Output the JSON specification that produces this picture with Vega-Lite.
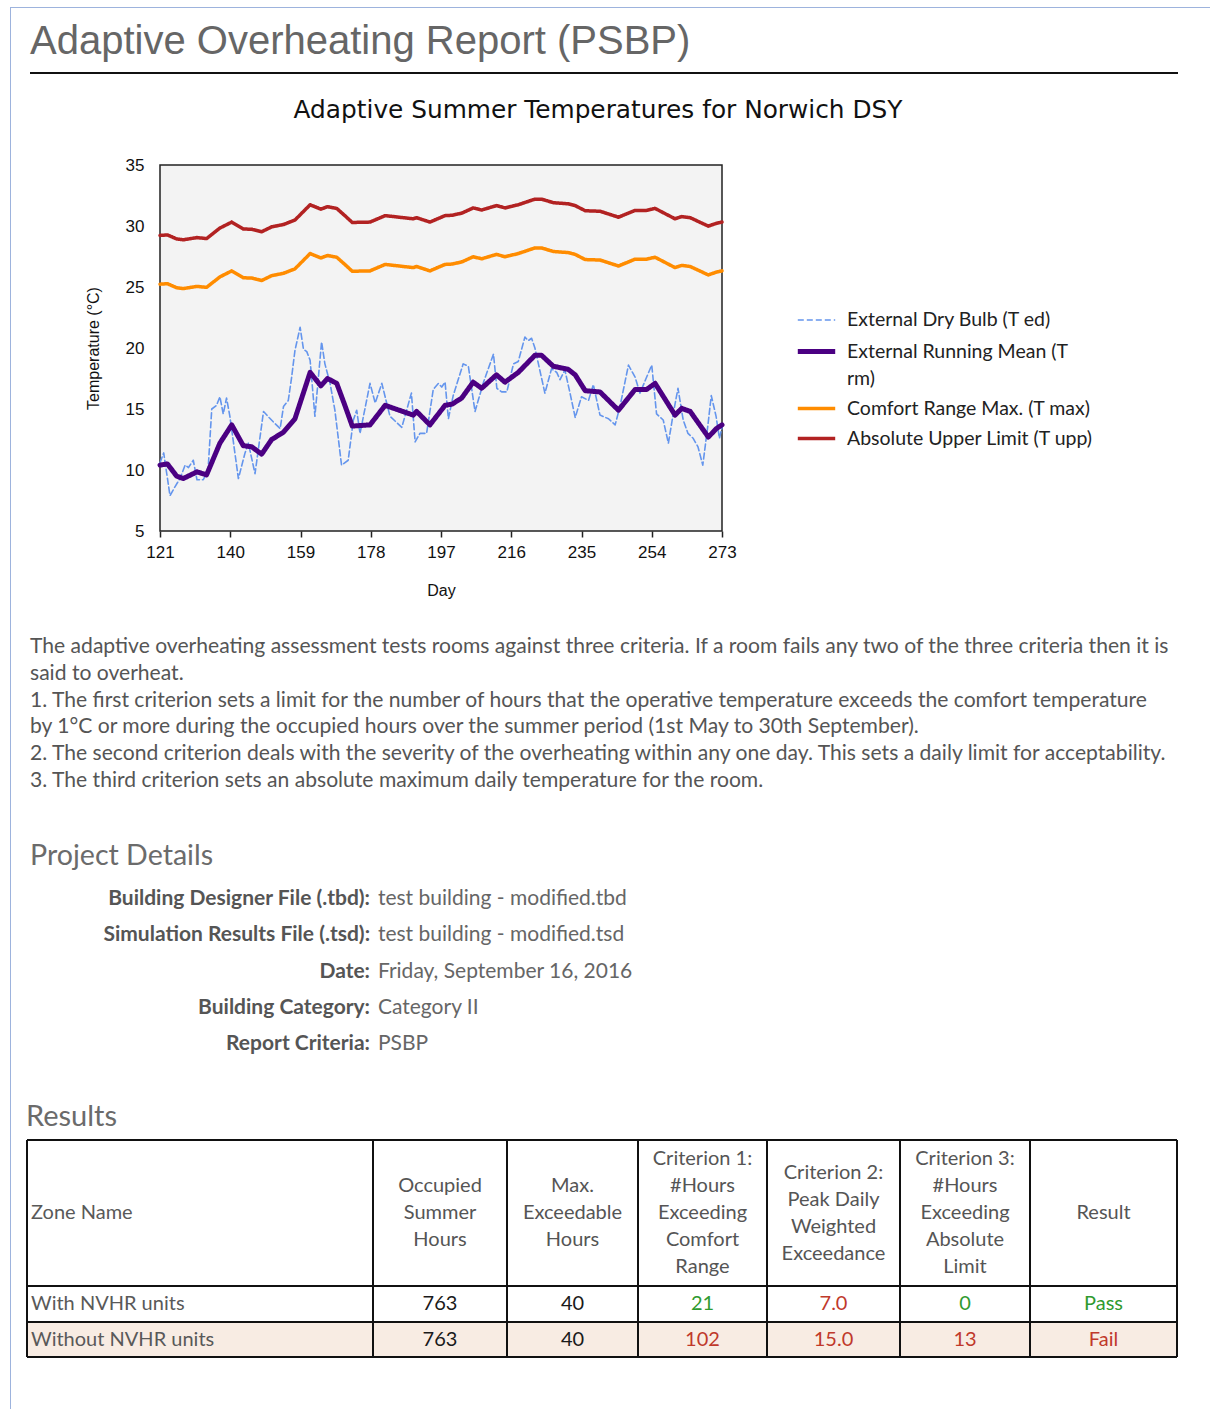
{
  "$schema": "https://vega.github.io/schema/vega-lite/v6.json",
  "background": "white",
  "padding": {"left": 10, "top": 7, "right": 0, "bottom": 0},
  "autosize": {"type": "pad"},
  "config": {"view": {"stroke": null}, "font": "Lato", "style": {"guide-label": {"lineHeight": 27}}},
  "datasets": {
    "hdr": [
      {"c": 1, "v": ["Occupied", "Summer", "Hours"]},
      {"c": 2, "v": ["Max.", "Exceedable", "Hours"]},
      {"c": 3, "v": ["Criterion 1:", "#Hours", "Exceeding", "Comfort", "Range"]},
      {"c": 4, "v": ["Criterion 2:", "Peak Daily", "Weighted", "Exceedance"]},
      {"c": 5, "v": ["Criterion 3:", "#Hours", "Exceeding", "Absolute", "Limit"]},
      {"c": 6, "v": ["Result"]}
    ],
    "body": [
      {"r": 1, "c": 1, "k": "n", "v": "763"},
      {"r": 1, "c": 2, "k": "n", "v": "40"},
      {"r": 1, "c": 3, "k": "g", "v": "21"},
      {"r": 1, "c": 4, "k": "r", "v": "7.0"},
      {"r": 1, "c": 5, "k": "g", "v": "0"},
      {"r": 1, "c": 6, "k": "g", "v": "Pass"},
      {"r": 2, "c": 1, "k": "n", "v": "763"},
      {"r": 2, "c": 2, "k": "n", "v": "40"},
      {"r": 2, "c": 3, "k": "r", "v": "102"},
      {"r": 2, "c": 4, "k": "r", "v": "15.0"},
      {"r": 2, "c": 5, "k": "r", "v": "13"},
      {"r": 2, "c": 6, "k": "r", "v": "Fail"}
    ]
  },
  "bounds": "flush",
  "spacing": 0,
  "vconcat": [
    {
      "width": 1200, "height": 1,
      "view": {"fill": "#9db3dd", "stroke": null},
      "data": {"values": []},
      "mark": "rule",
      "encoding": {}
    },
    {
      "bounds": "flush",
      "spacing": 19,
      "hconcat": [
        {
          "width": 1, "height": 1401,
          "view": {"fill": "#9db3dd", "stroke": null},
          "data": {"values": []},
          "mark": "rule",
          "encoding": {}
        },
        {
          "bounds": "flush",
          "spacing": 0,
          "vconcat": [
            {
              "width": 1148, "height": 157,
              "data": {"values": [{"title": "Adaptive Overheating Report (PSBP)"}]},
              "layer": [
                {
                  "mark": {"type": "text", "font": "Liberation Sans", "fontSize": 40, "color": "#666666", "align": "left", "baseline": "alphabetic"},
                  "encoding": {
                    "text": {"field": "title"},
                    "x": {"datum": 0, "type": "quantitative", "scale": {"domain": [0, 1]}, "axis": null},
                    "y": {"datum": 0.707, "type": "quantitative", "scale": {"domain": [0, 1]}, "axis": null}
                  }
                },
                {
                  "mark": {"type": "rule", "color": "#111111", "strokeWidth": 2},
                  "encoding": {
                    "x": {"datum": 0, "type": "quantitative", "axis": null},
                    "x2": {"datum": 1},
                    "y": {"datum": 0.586, "type": "quantitative", "axis": null}
                  }
                }
              ]
            },
            {
              "width": 1136, "height": 366,
              "title": {"text": "Adaptive Summer Temperatures for Norwich DSY", "anchor": "middle", "font": "DejaVu Sans", "fontSize": 24.8, "fontWeight": "normal", "color": "#111111", "offset": 13, "baseline": "alphabetic"},
              "layer": [
                {
                  "data": {"values": [{}]},
                  "mark": {"type": "rect", "fill": "#f3f3f3", "stroke": "#222222", "strokeWidth": 1.5},
                  "encoding": {
                    "x": {"datum": 121, "type": "quantitative"},
                    "x2": {"datum": 273},
                    "y": {"datum": 5, "type": "quantitative"},
                    "y2": {"datum": 35}
                  }
                },
                {
                  "data": {"values": [
                    {"s":"ted","d":121,"t":10.6},{"s":"ted","d":122,"t":11.4},{"s":"ted","d":123.7,"t":7.9},{"s":"ted","d":125,"t":8.6},{"s":"ted","d":126.4,"t":9.3},{"s":"ted","d":127.8,"t":10.4},{"s":"ted","d":128.7,"t":10.2},{"s":"ted","d":130,"t":10.8},{"s":"ted","d":131,"t":9.2},{"s":"ted","d":132.7,"t":9.2},{"s":"ted","d":134,"t":10.0},{"s":"ted","d":135,"t":15.0},{"s":"ted","d":136.3,"t":15.3},{"s":"ted","d":137.2,"t":16.0},{"s":"ted","d":138.1,"t":14.6},{"s":"ted","d":139,"t":15.9},{"s":"ted","d":139.9,"t":14.4},{"s":"ted","d":142.2,"t":9.3},{"s":"ted","d":144,"t":11.4},{"s":"ted","d":144.9,"t":12.2},{"s":"ted","d":146.7,"t":9.7},{"s":"ted","d":149,"t":14.8},{"s":"ted","d":150.5,"t":14.3},{"s":"ted","d":152.1,"t":13.8},{"s":"ted","d":153.5,"t":13.4},{"s":"ted","d":154.4,"t":15.2},{"s":"ted","d":155.7,"t":15.7},{"s":"ted","d":156.6,"t":17.6},{"s":"ted","d":157.5,"t":19.8},{"s":"ted","d":158.9,"t":21.7},{"s":"ted","d":159.8,"t":19.9},{"s":"ted","d":160.7,"t":19.7},{"s":"ted","d":161.6,"t":19.0},{"s":"ted","d":162.9,"t":14.4},{"s":"ted","d":164.7,"t":20.5},{"s":"ted","d":165.6,"t":18.7},{"s":"ted","d":167,"t":17.1},{"s":"ted","d":168.3,"t":14.9},{"s":"ted","d":170.1,"t":10.4},{"s":"ted","d":171.9,"t":10.8},{"s":"ted","d":173.3,"t":14.1},{"s":"ted","d":174.2,"t":14.9},{"s":"ted","d":175.1,"t":13.0},{"s":"ted","d":177.8,"t":17.1},{"s":"ted","d":179.2,"t":15.5},{"s":"ted","d":181,"t":17.1},{"s":"ted","d":183.2,"t":14.4},{"s":"ted","d":186.4,"t":13.5},{"s":"ted","d":189,"t":16.3},{"s":"ted","d":190,"t":12.3},{"s":"ted","d":191.3,"t":13.0},{"s":"ted","d":193.1,"t":13.0},{"s":"ted","d":194.9,"t":16.6},{"s":"ted","d":196.3,"t":17.1},{"s":"ted","d":197.2,"t":16.8},{"s":"ted","d":198.1,"t":17.2},{"s":"ted","d":199,"t":14.2},{"s":"ted","d":200.3,"t":16.1},{"s":"ted","d":203,"t":18.7},{"s":"ted","d":204.4,"t":18.5},{"s":"ted","d":206.2,"t":14.8},{"s":"ted","d":208.5,"t":17.2},{"s":"ted","d":211.2,"t":19.5},{"s":"ted","d":212.1,"t":16.7},{"s":"ted","d":213.4,"t":16.4},{"s":"ted","d":214.8,"t":16.4},{"s":"ted","d":216.6,"t":18.7},{"s":"ted","d":217.9,"t":18.9},{"s":"ted","d":219.7,"t":20.9},{"s":"ted","d":220.6,"t":20.6},{"s":"ted","d":221.5,"t":20.8},{"s":"ted","d":222.4,"t":20.0},{"s":"ted","d":225.1,"t":16.3},{"s":"ted","d":226.9,"t":18.3},{"s":"ted","d":228.3,"t":18.0},{"s":"ted","d":229.2,"t":17.4},{"s":"ted","d":230.5,"t":18.2},{"s":"ted","d":231.9,"t":16.3},{"s":"ted","d":233.3,"t":14.3},{"s":"ted","d":235,"t":16.0},{"s":"ted","d":236.9,"t":15.7},{"s":"ted","d":238.2,"t":17.0},{"s":"ted","d":240,"t":14.5},{"s":"ted","d":242.3,"t":14.2},{"s":"ted","d":244.1,"t":13.7},{"s":"ted","d":245.4,"t":15.2},{"s":"ted","d":247.7,"t":18.6},{"s":"ted","d":249.5,"t":17.6},{"s":"ted","d":250.8,"t":16.3},{"s":"ted","d":252.6,"t":17.6},{"s":"ted","d":254,"t":18.6},{"s":"ted","d":255.3,"t":14.6},{"s":"ted","d":257.1,"t":14.1},{"s":"ted","d":258.5,"t":12.2},{"s":"ted","d":259.8,"t":14.6},{"s":"ted","d":261.1,"t":16.7},{"s":"ted","d":262.5,"t":14.1},{"s":"ted","d":263.8,"t":13.0},{"s":"ted","d":265.2,"t":12.6},{"s":"ted","d":266.5,"t":11.9},{"s":"ted","d":267.8,"t":10.4},{"s":"ted","d":269.2,"t":13.7},{"s":"ted","d":270.1,"t":16.1},{"s":"ted","d":271.4,"t":14.4},{"s":"ted","d":272.3,"t":12.6},{"s":"ted","d":273,"t":13.5},
                    {"s":"tupp","d":121,"t":29.23},{"s":"tupp","d":123,"t":29.27},{"s":"tupp","d":125.5,"t":28.94},{"s":"tupp","d":127.3,"t":28.87},{"s":"tupp","d":131,"t":29.05},{"s":"tupp","d":133.6,"t":28.97},{"s":"tupp","d":137.2,"t":29.83},{"s":"tupp","d":140.4,"t":30.32},{"s":"tupp","d":143.5,"t":29.76},{"s":"tupp","d":145.8,"t":29.73},{"s":"tupp","d":148.5,"t":29.53},{"s":"tupp","d":151.2,"t":29.93},{"s":"tupp","d":154.4,"t":30.12},{"s":"tupp","d":157.5,"t":30.49},{"s":"tupp","d":161.6,"t":31.74},{"s":"tupp","d":164.5,"t":31.38},{"s":"tupp","d":166.3,"t":31.58},{"s":"tupp","d":168.8,"t":31.44},{"s":"tupp","d":171,"t":30.85},{"s":"tupp","d":173,"t":30.29},{"s":"tupp","d":177.8,"t":30.32},{"s":"tupp","d":181.9,"t":30.85},{"s":"tupp","d":185.7,"t":30.72},{"s":"tupp","d":189.5,"t":30.59},{"s":"tupp","d":190.4,"t":30.68},{"s":"tupp","d":194,"t":30.32},{"s":"tupp","d":198.1,"t":30.85},{"s":"tupp","d":200,"t":30.88},{"s":"tupp","d":202.6,"t":31.05},{"s":"tupp","d":205.7,"t":31.48},{"s":"tupp","d":208,"t":31.31},{"s":"tupp","d":212,"t":31.67},{"s":"tupp","d":214.3,"t":31.48},{"s":"tupp","d":217.9,"t":31.74},{"s":"tupp","d":222.4,"t":32.2},{"s":"tupp","d":224.2,"t":32.2},{"s":"tupp","d":227.4,"t":31.91},{"s":"tupp","d":231.4,"t":31.82},{"s":"tupp","d":233.3,"t":31.67},{"s":"tupp","d":236,"t":31.25},{"s":"tupp","d":240,"t":31.21},{"s":"tupp","d":245,"t":30.72},{"s":"tupp","d":249.5,"t":31.28},{"s":"tupp","d":252.6,"t":31.28},{"s":"tupp","d":254.9,"t":31.44},{"s":"tupp","d":260.3,"t":30.59},{"s":"tupp","d":262.1,"t":30.77},{"s":"tupp","d":264.4,"t":30.68},{"s":"tupp","d":269.3,"t":29.99},{"s":"tupp","d":271.5,"t":30.22},{"s":"tupp","d":273,"t":30.32},
                    {"s":"tmax","d":121,"t":25.23},{"s":"tmax","d":123,"t":25.27},{"s":"tmax","d":125.5,"t":24.94},{"s":"tmax","d":127.3,"t":24.87},{"s":"tmax","d":131,"t":25.05},{"s":"tmax","d":133.6,"t":24.97},{"s":"tmax","d":137.2,"t":25.83},{"s":"tmax","d":140.4,"t":26.32},{"s":"tmax","d":143.5,"t":25.76},{"s":"tmax","d":145.8,"t":25.73},{"s":"tmax","d":148.5,"t":25.53},{"s":"tmax","d":151.2,"t":25.93},{"s":"tmax","d":154.4,"t":26.12},{"s":"tmax","d":157.5,"t":26.49},{"s":"tmax","d":161.6,"t":27.74},{"s":"tmax","d":164.5,"t":27.38},{"s":"tmax","d":166.3,"t":27.58},{"s":"tmax","d":168.8,"t":27.44},{"s":"tmax","d":171,"t":26.85},{"s":"tmax","d":173,"t":26.29},{"s":"tmax","d":177.8,"t":26.32},{"s":"tmax","d":181.9,"t":26.85},{"s":"tmax","d":185.7,"t":26.72},{"s":"tmax","d":189.5,"t":26.59},{"s":"tmax","d":190.4,"t":26.68},{"s":"tmax","d":194,"t":26.32},{"s":"tmax","d":198.1,"t":26.85},{"s":"tmax","d":200,"t":26.88},{"s":"tmax","d":202.6,"t":27.05},{"s":"tmax","d":205.7,"t":27.48},{"s":"tmax","d":208,"t":27.31},{"s":"tmax","d":212,"t":27.67},{"s":"tmax","d":214.3,"t":27.48},{"s":"tmax","d":217.9,"t":27.74},{"s":"tmax","d":222.4,"t":28.2},{"s":"tmax","d":224.2,"t":28.2},{"s":"tmax","d":227.4,"t":27.91},{"s":"tmax","d":231.4,"t":27.82},{"s":"tmax","d":233.3,"t":27.67},{"s":"tmax","d":236,"t":27.25},{"s":"tmax","d":240,"t":27.21},{"s":"tmax","d":245,"t":26.72},{"s":"tmax","d":249.5,"t":27.28},{"s":"tmax","d":252.6,"t":27.28},{"s":"tmax","d":254.9,"t":27.44},{"s":"tmax","d":260.3,"t":26.59},{"s":"tmax","d":262.1,"t":26.77},{"s":"tmax","d":264.4,"t":26.68},{"s":"tmax","d":269.3,"t":25.99},{"s":"tmax","d":271.5,"t":26.22},{"s":"tmax","d":273,"t":26.32},
                    {"s":"trm","d":121,"t":10.4},{"s":"trm","d":123,"t":10.5},{"s":"trm","d":125.5,"t":9.5},{"s":"trm","d":127.3,"t":9.3},{"s":"trm","d":131,"t":9.85},{"s":"trm","d":133.6,"t":9.6},{"s":"trm","d":137.2,"t":12.2},{"s":"trm","d":140.4,"t":13.7},{"s":"trm","d":143.5,"t":12.0},{"s":"trm","d":145.8,"t":11.9},{"s":"trm","d":148.5,"t":11.3},{"s":"trm","d":151.2,"t":12.5},{"s":"trm","d":154.4,"t":13.1},{"s":"trm","d":157.5,"t":14.2},{"s":"trm","d":161.6,"t":18.0},{"s":"trm","d":164.5,"t":16.9},{"s":"trm","d":166.3,"t":17.5},{"s":"trm","d":168.8,"t":17.1},{"s":"trm","d":171,"t":15.3},{"s":"trm","d":173,"t":13.6},{"s":"trm","d":177.8,"t":13.7},{"s":"trm","d":181.9,"t":15.3},{"s":"trm","d":185.7,"t":14.9},{"s":"trm","d":189.5,"t":14.5},{"s":"trm","d":190.4,"t":14.8},{"s":"trm","d":194,"t":13.7},{"s":"trm","d":198.1,"t":15.3},{"s":"trm","d":200,"t":15.4},{"s":"trm","d":202.6,"t":15.9},{"s":"trm","d":205.7,"t":17.2},{"s":"trm","d":208,"t":16.7},{"s":"trm","d":212,"t":17.8},{"s":"trm","d":214.3,"t":17.2},{"s":"trm","d":217.9,"t":18.0},{"s":"trm","d":222.4,"t":19.4},{"s":"trm","d":224.2,"t":19.4},{"s":"trm","d":227.4,"t":18.5},{"s":"trm","d":231.4,"t":18.25},{"s":"trm","d":233.3,"t":17.8},{"s":"trm","d":236,"t":16.5},{"s":"trm","d":240,"t":16.4},{"s":"trm","d":245,"t":14.9},{"s":"trm","d":249.5,"t":16.6},{"s":"trm","d":252.6,"t":16.6},{"s":"trm","d":254.9,"t":17.1},{"s":"trm","d":260.3,"t":14.5},{"s":"trm","d":262.1,"t":15.05},{"s":"trm","d":264.4,"t":14.8},{"s":"trm","d":269.3,"t":12.7},{"s":"trm","d":271.5,"t":13.4},{"s":"trm","d":273,"t":13.7}
                  ]},
                  "mark": {"type": "line", "strokeCap": "round", "strokeJoin": "round"},
                  "encoding": {
                    "x": {
                      "field": "d", "type": "quantitative",
                      "scale": {"domain": [121, 273], "range": [130, 692], "nice": false, "zero": false},
                      "axis": {"title": "Day", "values": [121, 140, 159, 178, 197, 216, 235, 254, 273], "grid": false, "domain": false, "ticks": true, "tickSize": 6, "tickWidth": 1.5, "tickColor": "#222222", "labelFont": "Liberation Sans", "labelFontSize": 17, "labelColor": "#111111", "labelPadding": 7, "labelFlush": false, "labelOverlap": false, "titleFont": "Liberation Sans", "titleFontSize": 16, "titleFontWeight": "normal", "titleColor": "#111111", "titlePadding": 22, "zindex": 1}
                    },
                    "y": {
                      "field": "t", "type": "quantitative",
                      "scale": {"domain": [5, 35], "nice": false, "zero": false},
                      "axis": {"title": "Temperature (°C)", "values": [5, 10, 15, 20, 25, 30, 35], "grid": false, "domain": false, "ticks": false, "tickSize": 0, "offset": -130, "labelFont": "Liberation Sans", "labelFontSize": 17, "labelColor": "#111111", "labelPadding": 16, "labelFlush": false, "labelOverlap": false, "titleFont": "Liberation Sans", "titleFontSize": 16, "titleFontWeight": "normal", "titleColor": "#111111", "titlePadding": 24, "zindex": 1}
                    },
                    "color": {
                      "field": "s", "type": "nominal",
                      "scale": {"domain": ["ted", "trm", "tmax", "tupp"], "range": ["#6495ED", "#4B0082", "#FF8C00", "#B22222"]},
                      "legend": {"orient": "none", "legendX": 785, "legendY": 293, "title": null, "labelFont": "Lato", "labelFontSize": 19.5, "labelColor": "#222222", "symbolType": "stroke", "symbolSize": 1400, "labelOffset": 9, "rowPadding": -3, "labelLimit": 400, "padding": 0,
                        "labelExpr": "datum.value == 'ted' ? 'External Dry Bulb (T ed)' : datum.value == 'trm' ? ['External Running Mean (T', 'rm)'] : datum.value == 'tmax' ? 'Comfort Range Max. (T max)' : 'Absolute Upper Limit (T upp)'"}
                    },
                    "strokeDash": {
                      "field": "s", "type": "nominal",
                      "scale": {"domain": ["ted", "trm", "tmax", "tupp"], "range": [[6, 3], [1, 0], [1, 0], [1, 0]]},
                      "legend": {"title": null}
                    },
                    "strokeWidth": {
                      "field": "s", "type": "nominal",
                      "scale": {"type": "ordinal", "domain": ["ted", "trm", "tmax", "tupp"], "range": [1.6, 5, 3.5, 3.5]},
                      "legend": {"title": null}
                    }
                  }
                }
              ]
            },
            {
              "width": 1148, "height": 347,
              "data": {"values": [
                {"i": 0, "line": "The adaptive overheating assessment tests rooms against three criteria. If a room fails any two of the three criteria then it is"},
                {"i": 1, "line": "said to overheat."},
                {"i": 2, "line": "1. The first criterion sets a limit for the number of hours that the operative temperature exceeds the comfort temperature"},
                {"i": 3, "line": "by 1°C or more during the occupied hours over the summer period (1st May to 30th September)."},
                {"i": 4, "line": "2. The second criterion deals with the severity of the overheating within any one day. This sets a daily limit for acceptability."},
                {"i": 5, "line": "3. The third criterion sets an absolute maximum daily temperature for the room."}
              ]},
              "mark": {"type": "text", "align": "left", "baseline": "middle", "font": "Lato", "fontSize": 21.1, "color": "#555555"},
              "encoding": {
                "x": {"datum": 0, "type": "quantitative", "scale": {"domain": [0, 1]}, "axis": null},
                "y": {"field": "i", "type": "quantitative", "scale": {"domain": [0, 5], "range": [116, 250]}, "axis": null},
                "text": {"field": "line"}
              }
            },
            {
              "width": 1148, "height": 262,
              "title": {"text": "Project Details", "anchor": "start", "font": "Lato", "fontSize": 28.6, "fontWeight": "normal", "color": "#6b6b6b", "offset": -16, "baseline": "alphabetic"},
              "data": {"values": [
                {"i": 0, "label": "Building Designer File (.tbd):", "value": "test building - modified.tbd"},
                {"i": 1, "label": "Simulation Results File (.tsd):", "value": "test building - modified.tsd"},
                {"i": 2, "label": "Date:", "value": "Friday, September 16, 2016"},
                {"i": 3, "label": "Building Category:", "value": "Category II"},
                {"i": 4, "label": "Report Criteria:", "value": "PSBP"}
              ]},
              "encoding": {
                "y": {"field": "i", "type": "quantitative", "scale": {"domain": [0, 4], "range": [21, 166]}, "axis": null}
              },
              "layer": [
                {
                  "mark": {"type": "text", "align": "right", "baseline": "middle", "font": "Lato", "fontSize": 21, "fontWeight": "bold", "color": "#555555"},
                  "encoding": {
                    "x": {"datum": 0.2962, "type": "quantitative", "scale": {"domain": [0, 1]}, "axis": null},
                    "text": {"field": "label"}
                  }
                },
                {
                  "mark": {"type": "text", "align": "left", "baseline": "middle", "font": "Lato", "fontSize": 21, "color": "#666666"},
                  "encoding": {
                    "x": {"datum": 0.3031, "type": "quantitative", "axis": null},
                    "text": {"field": "value"}
                  }
                }
              ]
            },
            {
              "width": 1148, "height": 217,
              "title": {"text": "Results", "anchor": "start", "font": "Lato", "fontSize": 29, "fontWeight": "normal", "color": "#6b6b6b", "offset": -16, "baseline": "alphabetic"},
              "resolve": {"scale": {"x": "independent", "y": "independent", "color": "independent"}},
              "layer": [
                {
                  "data": {"values": [{}]},
                  "mark": {"type": "rect", "fill": "#f8ece3"},
                  "encoding": {
                    "x": {"datum": 0, "type": "quantitative", "scale": {"domain": [0, 1, 2, 3, 4, 5, 6, 7], "range": [-3, 343, 477, 608, 737, 870, 1000, 1147]}, "axis": null},
                    "x2": {"datum": 7},
                    "y": {"datum": 2, "type": "quantitative", "scale": {"domain": [0, 1, 2, 3], "range": [0, 146, 182, 217]}, "axis": null},
                    "y2": {"datum": 3}
                  }
                },
                {
                  "data": {"values": [{"b": 0}, {"b": 1}, {"b": 2}, {"b": 3}, {"b": 4}, {"b": 5}, {"b": 6}, {"b": 7}]},
                  "mark": {"type": "rule", "color": "#111111", "strokeWidth": 2},
                  "encoding": {
                    "x": {"field": "b", "type": "quantitative", "scale": {"domain": [0, 1, 2, 3, 4, 5, 6, 7], "range": [-3, 343, 477, 608, 737, 870, 1000, 1147]}, "axis": null},
                    "y": {"datum": 0, "type": "quantitative", "scale": {"domain": [0, 1, 2, 3], "range": [0, 146, 182, 217]}, "axis": null},
                    "y2": {"datum": 3}
                  }
                },
                {
                  "data": {"values": [{"r": 0}, {"r": 1}, {"r": 2}, {"r": 3}]},
                  "mark": {"type": "rule", "color": "#111111", "strokeWidth": 2},
                  "encoding": {
                    "y": {"field": "r", "type": "quantitative", "scale": {"domain": [0, 1, 2, 3], "range": [0, 146, 182, 217]}, "axis": null},
                    "x": {"datum": 0, "type": "quantitative", "scale": {"domain": [0, 1, 2, 3, 4, 5, 6, 7], "range": [-3, 343, 477, 608, 737, 870, 1000, 1147]}, "axis": null},
                    "x2": {"datum": 7}
                  }
                },
                {
                  "data": {"name": "hdr"},
                  "transform": [{"filter": "length(datum.v) == 5"}],
                  "mark": {"type": "text", "align": "center", "baseline": "middle", "font": "Lato", "fontSize": 20, "lineHeight": 27, "color": "#555555", "dy": -54},
                  "encoding": {
                    "x": {"field": "c", "type": "quantitative", "scale": {"domain": [1, 2, 3, 4, 5, 6], "range": [410, 542.5, 672.5, 803.5, 935, 1073.5]}, "axis": null},
                    "y": {"datum": 0, "type": "quantitative", "scale": {"domain": [0, 1, 2], "range": [73, 164, 200]}, "axis": null},
                    "text": {"field": "v", "type": "nominal"}
                  }
                },
                {
                  "data": {"name": "hdr"},
                  "transform": [{"filter": "length(datum.v) == 4"}],
                  "mark": {"type": "text", "align": "center", "baseline": "middle", "font": "Lato", "fontSize": 20, "lineHeight": 27, "color": "#555555", "dy": -40.5},
                  "encoding": {
                    "x": {"field": "c", "type": "quantitative", "scale": {"domain": [1, 2, 3, 4, 5, 6], "range": [410, 542.5, 672.5, 803.5, 935, 1073.5]}, "axis": null},
                    "y": {"datum": 0, "type": "quantitative", "scale": {"domain": [0, 1, 2], "range": [73, 164, 200]}, "axis": null},
                    "text": {"field": "v", "type": "nominal"}
                  }
                },
                {
                  "data": {"name": "hdr"},
                  "transform": [{"filter": "length(datum.v) == 3"}],
                  "mark": {"type": "text", "align": "center", "baseline": "middle", "font": "Lato", "fontSize": 20, "lineHeight": 27, "color": "#555555", "dy": -27},
                  "encoding": {
                    "x": {"field": "c", "type": "quantitative", "scale": {"domain": [1, 2, 3, 4, 5, 6], "range": [410, 542.5, 672.5, 803.5, 935, 1073.5]}, "axis": null},
                    "y": {"datum": 0, "type": "quantitative", "scale": {"domain": [0, 1, 2], "range": [73, 164, 200]}, "axis": null},
                    "text": {"field": "v", "type": "nominal"}
                  }
                },
                {
                  "data": {"name": "hdr"},
                  "transform": [{"filter": "length(datum.v) == 1"}],
                  "mark": {"type": "text", "align": "center", "baseline": "middle", "font": "Lato", "fontSize": 20, "lineHeight": 27, "color": "#555555"},
                  "encoding": {
                    "x": {"field": "c", "type": "quantitative", "scale": {"domain": [1, 2, 3, 4, 5, 6], "range": [410, 542.5, 672.5, 803.5, 935, 1073.5]}, "axis": null},
                    "y": {"datum": 0, "type": "quantitative", "scale": {"domain": [0, 1, 2], "range": [73, 164, 200]}, "axis": null},
                    "text": {"field": "v", "type": "nominal"}
                  }
                },
                {
                  "data": {"name": "body"},
                  "mark": {"type": "text", "align": "center", "baseline": "middle", "font": "Lato", "fontSize": 20},
                  "encoding": {
                    "x": {"field": "c", "type": "quantitative", "scale": {"domain": [1, 2, 3, 4, 5, 6], "range": [410, 542.5, 672.5, 803.5, 935, 1073.5]}, "axis": null},
                    "y": {"field": "r", "type": "quantitative", "scale": {"domain": [0, 1, 2], "range": [73, 164, 200]}, "axis": null},
                    "text": {"field": "v", "type": "nominal"},
                    "color": {"field": "k", "type": "nominal", "scale": {"domain": ["n", "g", "r"], "range": ["#1a1a1a", "#2f9a2f", "#c0392b"]}, "legend": null}
                  }
                },
                {
                  "data": {"values": [
                    {"r": 0, "v": "Zone Name"},
                    {"r": 1, "v": "With NVHR units"},
                    {"r": 2, "v": "Without NVHR units"}
                  ]},
                  "mark": {"type": "text", "align": "left", "baseline": "middle", "font": "Lato", "fontSize": 20, "dx": 4, "color": "#595959"},
                  "encoding": {
                    "x": {"datum": 0, "type": "quantitative", "scale": {"domain": [0, 1, 2, 3, 4, 5, 6, 7], "range": [-3, 343, 477, 608, 737, 870, 1000, 1147]}, "axis": null},
                    "y": {"field": "r", "type": "quantitative", "scale": {"domain": [0, 1, 2], "range": [73, 164, 200]}, "axis": null},
                    "text": {"field": "v", "type": "nominal"}
                  }
                }
              ]
            }
          ]
        }
      ]
    }
  ]
}
